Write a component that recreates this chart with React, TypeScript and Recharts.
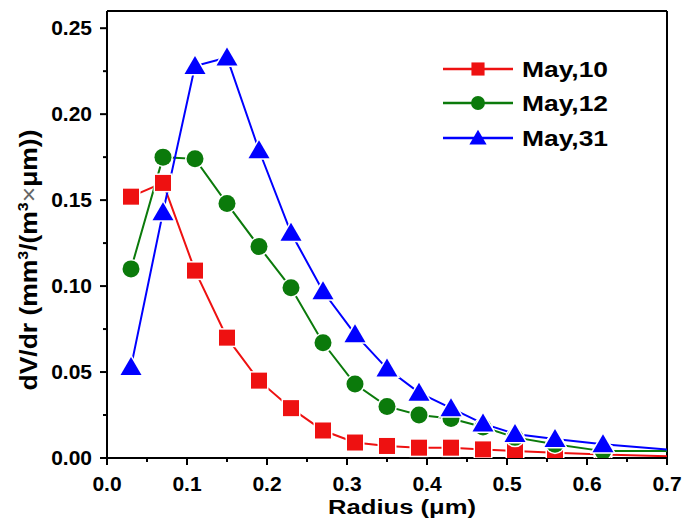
import React from 'react';
import { LineChart, Line, XAxis, YAxis, Legend, ReferenceLine } from 'recharts';

// radius (um) of each size bin, last one is the curve end without marker
const radius = [0.03, 0.07, 0.11, 0.15, 0.19, 0.23, 0.27, 0.31, 0.35, 0.39, 0.43, 0.47, 0.51, 0.56, 0.62, 0.7];
const may10 = [0.152, 0.160, 0.109, 0.070, 0.045, 0.029, 0.016, 0.009, 0.007, 0.006, 0.006, 0.005, 0.004, 0.003, 0.002, 0.001];
const may12 = [0.110, 0.175, 0.174, 0.148, 0.123, 0.099, 0.067, 0.043, 0.030, 0.025, 0.023, 0.018, 0.012, 0.008, 0.004, 0.004];
const may31 = [0.053, 0.143, 0.228, 0.233, 0.179, 0.131, 0.097, 0.072, 0.052, 0.038, 0.029, 0.020, 0.014, 0.011, 0.008, 0.005];

const xTicks = [0, 0.05, 0.1, 0.15, 0.2, 0.25, 0.3, 0.35, 0.4, 0.45, 0.5, 0.55, 0.6, 0.65, 0.7];
const yTicks = [0, 0.025, 0.05, 0.075, 0.1, 0.125, 0.15, 0.175, 0.2, 0.225, 0.25];

const series = [
  { key: 'may10', name: 'May,10', color: '#ee1111', shape: 'square' },
  { key: 'may12', name: 'May,12', color: '#0b7a0b', shape: 'circle' },
  { key: 'may31', name: 'May,31', color: '#0000ff', shape: 'triangle' },
];

const data = radius.map((r, i) => ({ r, may10: may10[i], may12: may12[i], may31: may31[i] }));

const FONT = '"Liberation Sans", Arial, sans-serif';

const marker = (shape: string, cx: number, cy: number, color: string, s = 1, halo = true) => {
  const common = {
    fill: color,
    stroke: halo ? '#fff' : color,
    strokeWidth: halo ? 3 : 0,
    paintOrder: 'stroke' as any,
  };
  if (shape === 'square') return <rect x={cx - 8 * s} y={cy - 8 * s} width={16 * s} height={16 * s} {...common} />;
  if (shape === 'circle') return <circle cx={cx} cy={cy} r={8.5 * s} {...common} />;
  return (
    <polygon
      points={`${cx},${cy - 10 * s} ${cx - 10.5 * s},${cy + 8 * s} ${cx + 10.5 * s},${cy + 8 * s}`}
      {...common}
    />
  );
};

const YTick = (props: any) => {
  const { x, y, payload } = props;
  const v = payload.value;
  const major = Math.round(v * 1000) % 50 === 0;
  return (
    <g>
      <line x1={x} x2={x - (major ? 7 : 4)} y1={y} y2={y} stroke="#000" strokeWidth={2} />
      {major && (
        <text x={x - 15} y={y + 7} textAnchor="end" fontFamily={FONT} fontWeight="bold" fontSize={21} fill="#000">
          {v.toFixed(2)}
        </text>
      )}
    </g>
  );
};

const XTick = (props: any) => {
  const { x, y, payload } = props;
  const v = payload.value;
  const major = Math.round(v * 1000) % 100 === 0;
  return (
    <g>
      <line x1={x} x2={x} y1={y} y2={y + (major ? 7 : 4)} stroke="#000" strokeWidth={2} />
      {major && (
        <text x={x} y={y + 33} textAnchor="middle" fontFamily={FONT} fontWeight="bold" fontSize={21} fill="#000">
          {v.toFixed(1)}
        </text>
      )}
    </g>
  );
};

const renderLegend = () => (
  <svg width={683} height={522} style={{ position: 'absolute', left: 0, top: 0 }}>
    {series.map((s, i) => {
      const y = [69, 103, 138][i];
      return (
        <g key={s.key}>
          <line x1={443} x2={513} y1={y} y2={y} stroke={s.color} strokeWidth={2.5} />
          {marker(s.shape, 478, y, s.color, 0.82, false)}
          <text
            transform={`translate(522, ${y + 8}) scale(1.2, 1)`}
            fontFamily={FONT}
            fontWeight="bold"
            fontSize={22}
            fill="#000"
          >
            {s.name}
          </text>
        </g>
      );
    })}
  </svg>
);

export default function App() {
  const last = radius.length - 1;
  return (
    <div style={{ position: 'absolute', left: 0, top: 0, width: 683, height: 522, background: '#fff' }}>
      <LineChart width={683} height={522} data={data} margin={{ top: 11, right: 16, bottom: 34, left: 27 }}>
        <XAxis
          dataKey="r"
          type="number"
          domain={[0, 0.7]}
          ticks={xTicks}
          interval={0}
          tickSize={0}
          tickMargin={0}
          tickLine={false}
          tick={<XTick />}
          height={30}
          axisLine={{ stroke: '#000', strokeWidth: 2 }}
          allowDataOverflow
        />
        <YAxis
          type="number"
          domain={[0, 0.26]}
          ticks={yTicks}
          interval={0}
          tickSize={0}
          tickMargin={0}
          tickLine={false}
          tick={<YTick />}
          width={80}
          axisLine={{ stroke: '#000', strokeWidth: 2 }}
          allowDataOverflow
        />
        <ReferenceLine y={0.26} stroke="#000" strokeWidth={2} />
        <ReferenceLine x={0.7} stroke="#000" strokeWidth={2} />
        {series.map((s) => (
          <Line
            key={s.key}
            dataKey={s.key}
            name={s.name}
            stroke={s.color}
            strokeWidth={2}
            isAnimationActive={false}
            dot={(p: any) =>
              p.index === last ? <g key={`${s.key}-${p.index}`} /> : <g key={`${s.key}-${p.index}`}>{marker(s.shape, p.cx, p.cy, s.color)}</g>
            }
            activeDot={false}
          />
        ))}
        <Legend
          layout="horizontal"
          verticalAlign="middle"
          align="center"
          content={renderLegend}
          wrapperStyle={{ position: 'absolute', left: 0, top: 0, width: 683, height: 522, pointerEvents: 'none' }}
        />
      </LineChart>
      <svg width={683} height={522} style={{ position: 'absolute', left: 0, top: 0, pointerEvents: 'none' }}>
        <text
          transform="translate(37, 260) rotate(-90) scale(1.15, 1)"
          textAnchor="middle"
          fontFamily={FONT}
          fontWeight="bold"
          fontSize={23}
          fill="#000"
        >
          dV/dr (mm<tspan dy={-9} fontSize={14}>3</tspan>
          <tspan dy={9}>/(m</tspan>
          <tspan dy={-9} fontSize={14}>3</tspan>
          <tspan dy={9} fontWeight="normal" fill="#666">×</tspan>
          <tspan>μm))</tspan>
        </text>
        <text
          transform="translate(402, 514) scale(1.22, 1)"
          textAnchor="middle"
          fontFamily={FONT}
          fontWeight="bold"
          fontSize={21}
          fill="#000"
        >
          Radius (μm)
        </text>
      </svg>
    </div>
  );
}
